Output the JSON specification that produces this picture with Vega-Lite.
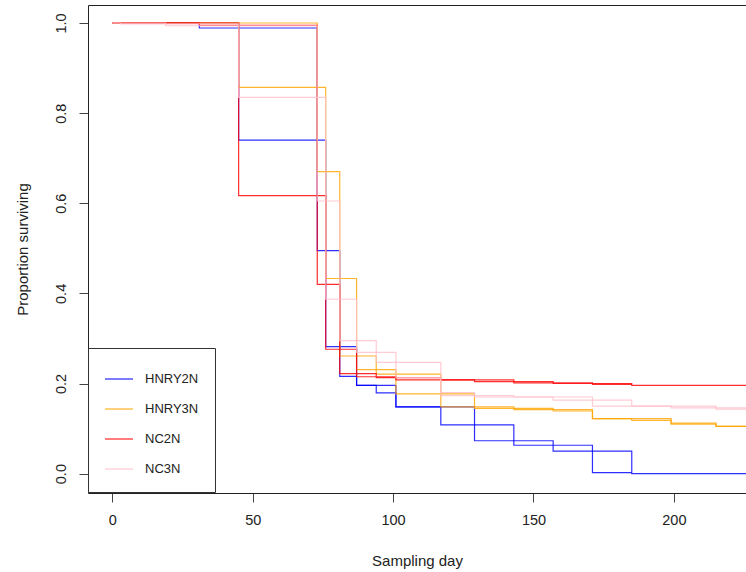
{
  "$schema": "https://vega.github.io/schema/vega-lite/v6.json",
  "width": 658,
  "height": 488,
  "autosize": {"type": "none"},
  "padding": {"left": 88, "top": 5, "right": 0, "bottom": 79},
  "background": "white",
  "config": {
    "view": {"stroke": null},
    "font": "Liberation Sans",
    "axis": {"grid": false, "domainColor": "#222", "tickColor": "#444", "labelColor": "#222", "titleColor": "#222", "titleFontWeight": "normal", "labelFontSize": 14.5, "titleFontSize": 15, "labelFlush": false, "labelOverlap": false}
  },
  "data": {
    "values": [
      {"g": "HNRY2N", "r": "A", "d": 0, "s": 1},
      {"g": "HNRY2N", "r": "A", "d": 45, "s": 0.74},
      {"g": "HNRY2N", "r": "A", "d": 76, "s": 0.282},
      {"g": "HNRY2N", "r": "A", "d": 87, "s": 0.196},
      {"g": "HNRY2N", "r": "A", "d": 94, "s": 0.179},
      {"g": "HNRY2N", "r": "A", "d": 101, "s": 0.148},
      {"g": "HNRY2N", "r": "A", "d": 117, "s": 0.108},
      {"g": "HNRY2N", "r": "A", "d": 143, "s": 0.063},
      {"g": "HNRY2N", "r": "A", "d": 171, "s": 0.002},
      {"g": "HNRY2N", "r": "A", "d": 185, "s": 0.002},
      {"g": "HNRY2N", "r": "B", "d": 0, "s": 1},
      {"g": "HNRY2N", "r": "B", "d": 31, "s": 0.989},
      {"g": "HNRY2N", "r": "B", "d": 73, "s": 0.495},
      {"g": "HNRY2N", "r": "B", "d": 81, "s": 0.216},
      {"g": "HNRY2N", "r": "B", "d": 87, "s": 0.196},
      {"g": "HNRY2N", "r": "B", "d": 101, "s": 0.148},
      {"g": "HNRY2N", "r": "B", "d": 129, "s": 0.073},
      {"g": "HNRY2N", "r": "B", "d": 157, "s": 0.05},
      {"g": "HNRY2N", "r": "B", "d": 185, "s": 0.0},
      {"g": "HNRY2N", "r": "B", "d": 230, "s": 0.0},
      {"g": "HNRY3N", "r": "A", "d": 0, "s": 1},
      {"g": "HNRY3N", "r": "A", "d": 45, "s": 0.857},
      {"g": "HNRY3N", "r": "A", "d": 76, "s": 0.433},
      {"g": "HNRY3N", "r": "A", "d": 87, "s": 0.231},
      {"g": "HNRY3N", "r": "A", "d": 101, "s": 0.177},
      {"g": "HNRY3N", "r": "A", "d": 129, "s": 0.145},
      {"g": "HNRY3N", "r": "A", "d": 157, "s": 0.139},
      {"g": "HNRY3N", "r": "A", "d": 171, "s": 0.122},
      {"g": "HNRY3N", "r": "A", "d": 199, "s": 0.112},
      {"g": "HNRY3N", "r": "A", "d": 215, "s": 0.105},
      {"g": "HNRY3N", "r": "A", "d": 230, "s": 0.105},
      {"g": "HNRY3N", "r": "B", "d": 0, "s": 1},
      {"g": "HNRY3N", "r": "B", "d": 73, "s": 0.67},
      {"g": "HNRY3N", "r": "B", "d": 81, "s": 0.261},
      {"g": "HNRY3N", "r": "B", "d": 94, "s": 0.221},
      {"g": "HNRY3N", "r": "B", "d": 117, "s": 0.148},
      {"g": "HNRY3N", "r": "B", "d": 143, "s": 0.142},
      {"g": "HNRY3N", "r": "B", "d": 171, "s": 0.122},
      {"g": "HNRY3N", "r": "B", "d": 185, "s": 0.118},
      {"g": "HNRY3N", "r": "B", "d": 199, "s": 0.11},
      {"g": "HNRY3N", "r": "B", "d": 215, "s": 0.105},
      {"g": "HNRY3N", "r": "B", "d": 230, "s": 0.105},
      {"g": "NC2N", "r": "A", "d": 0, "s": 1},
      {"g": "NC2N", "r": "A", "d": 45, "s": 0.617},
      {"g": "NC2N", "r": "A", "d": 76, "s": 0.276},
      {"g": "NC2N", "r": "A", "d": 87, "s": 0.215},
      {"g": "NC2N", "r": "A", "d": 101, "s": 0.208},
      {"g": "NC2N", "r": "A", "d": 129, "s": 0.204},
      {"g": "NC2N", "r": "A", "d": 157, "s": 0.2},
      {"g": "NC2N", "r": "A", "d": 185, "s": 0.196},
      {"g": "NC2N", "r": "A", "d": 230, "s": 0.196},
      {"g": "NC2N", "r": "B", "d": 0, "s": 1},
      {"g": "NC2N", "r": "B", "d": 31, "s": 0.995},
      {"g": "NC2N", "r": "B", "d": 73, "s": 0.42},
      {"g": "NC2N", "r": "B", "d": 81, "s": 0.222},
      {"g": "NC2N", "r": "B", "d": 94, "s": 0.213},
      {"g": "NC2N", "r": "B", "d": 117, "s": 0.208},
      {"g": "NC2N", "r": "B", "d": 143, "s": 0.2015},
      {"g": "NC2N", "r": "B", "d": 171, "s": 0.198},
      {"g": "NC2N", "r": "B", "d": 185, "s": 0.198},
      {"g": "NC3N", "r": "A", "d": 0, "s": 1},
      {"g": "NC3N", "r": "A", "d": 3, "s": 0.998},
      {"g": "NC3N", "r": "A", "d": 45, "s": 0.835},
      {"g": "NC3N", "r": "A", "d": 76, "s": 0.387},
      {"g": "NC3N", "r": "A", "d": 87, "s": 0.269},
      {"g": "NC3N", "r": "A", "d": 101, "s": 0.213},
      {"g": "NC3N", "r": "A", "d": 117, "s": 0.173},
      {"g": "NC3N", "r": "A", "d": 143, "s": 0.17},
      {"g": "NC3N", "r": "A", "d": 171, "s": 0.15},
      {"g": "NC3N", "r": "A", "d": 199, "s": 0.146},
      {"g": "NC3N", "r": "A", "d": 215, "s": 0.143},
      {"g": "NC3N", "r": "A", "d": 230, "s": 0.143},
      {"g": "NC3N", "r": "B", "d": 0, "s": 1},
      {"g": "NC3N", "r": "B", "d": 19, "s": 0.994},
      {"g": "NC3N", "r": "B", "d": 73, "s": 0.605},
      {"g": "NC3N", "r": "B", "d": 81, "s": 0.295},
      {"g": "NC3N", "r": "B", "d": 94, "s": 0.247},
      {"g": "NC3N", "r": "B", "d": 117, "s": 0.18},
      {"g": "NC3N", "r": "B", "d": 129, "s": 0.17},
      {"g": "NC3N", "r": "B", "d": 157, "s": 0.163},
      {"g": "NC3N", "r": "B", "d": 185, "s": 0.15},
      {"g": "NC3N", "r": "B", "d": 215, "s": 0.146},
      {"g": "NC3N", "r": "B", "d": 230, "s": 0.146}
    ]
  },
  "layer": [
    {
      "mark": {"type": "line", "interpolate": "step-after", "strokeWidth": 1.2, "strokeOpacity": 0.82, "clip": true},
      "encoding": {
        "x": {
          "field": "d", "type": "quantitative",
          "scale": {"domain": [-8.65, 225.68], "nice": false, "zero": false},
          "axis": {"orient": "bottom", "values": [0, 50, 100, 150, 200], "tickSize": 9, "labelPadding": 11, "title": "Sampling day", "titleY": 67, "titleBaseline": "middle", "titleAnchor": "middle"}
        },
        "y": {
          "field": "s", "type": "quantitative",
          "scale": {"domain": [-0.043, 1.04], "nice": false, "zero": false},
          "axis": {"values": [0, 0.2, 0.4, 0.6, 0.8, 1], "format": ".1f", "labelAngle": 270, "labelAlign": "center", "labelBaseline": "middle", "labelPadding": 18, "tickSize": 9, "title": "Proportion surviving", "titleX": -66, "titleY": 244, "titleAngle": 270, "titleBaseline": "middle", "titleAlign": "center"}
        },
        "color": {
          "field": "g", "type": "nominal",
          "scale": {"domain": ["HNRY2N", "HNRY3N", "NC2N", "NC3N"], "range": ["#0000FF", "#FFA500", "#FF0000", "#FFC0CB"]},
          "legend": {"title": null, "orient": "none", "legendX": 0, "legendY": 343, "symbolType": "stroke", "symbolSize": 784, "symbolStrokeWidth": 1.2, "symbolOpacity": 0.85, "labelFontSize": 13, "labelOffset": 11, "padding": 16, "rowPadding": 8, "strokeColor": "#333", "fillColor": "white", "labelColor": "#222", "cornerRadius": 0}
        },
        "detail": {"field": "r", "type": "nominal"}
      }
    },
    {
      "mark": {"type": "point", "opacity": 0},
      "encoding": {
        "x": {
          "field": "d", "type": "quantitative",
          "scale": {"domain": [-8.65, 225.68], "nice": false, "zero": false},
          "axis": {"orient": "top", "labels": false, "ticks": false, "title": null, "domain": true}
        }
      }
    }
  ],
  "resolve": {"axis": {"x": "independent"}}
}
